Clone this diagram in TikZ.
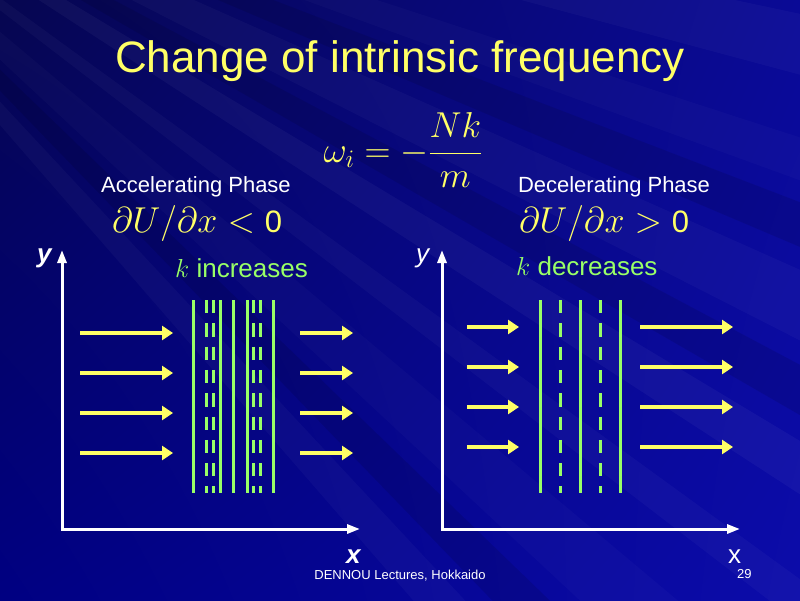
\RequirePackage{fix-cm}
\documentclass[tikz,border=0pt]{standalone}
\usepackage{fontspec}
\setmainfont{Liberation Sans}
\usetikzlibrary{arrows.meta,shadings}

\definecolor{slideyellow}{RGB}{255,255,102}
\definecolor{wavegreen}{RGB}{153,255,102}
\definecolor{bgUL}{RGB}{6,6,80}
\definecolor{bgUR}{RGB}{10,10,150}
\definecolor{bgLL}{RGB}{0,0,130}
\definecolor{bgLR}{RGB}{12,12,170}

\tikzset{
  flow/.style={draw=slideyellow, line width=4.3pt, -{Triangle[length=11pt,width=14pt]}},
  axes/.style={draw=white, line width=3pt, line join=miter, {Triangle[length=13pt,width=9pt]}-{Triangle[length=13pt,width=9pt]}},
  crest/.style={draw=wavegreen, line width=3pt},
  trough/.style={crest, dash pattern=on 13.3pt off 10pt},
  ray/.style={white, opacity=#1},
  label/.style={inner sep=0pt, anchor=base west}
}

\begin{document}
\begin{tikzpicture}[x=1pt, y=-1pt]
\useasboundingbox (0,0) rectangle (800,600);

% Fondo
\begin{scope}
\clip (0,0) rectangle (800,600);
\shade[upper left=bgUL, upper right=bgUR, lower left=bgLL, lower right=bgLR] (0,0) rectangle (800,600);
\coordinate (R) at (-300,-220);
\foreach \a/\b/\o in {12/15/0.03, 18/20/0.025, 24/27/0.03, 31/33/0.04, 36/37.5/0.03, 40/43/0.025, 47/49/0.03}
  \fill[ray=\o] (R) -- ([shift={(R)}]\a:2000) -- ([shift={(R)}]\b:2000) -- cycle;
\foreach \a/\b in {21/23, 28/30, 44/46}
  \fill[black, opacity=0.1] (R) -- ([shift={(R)}]\a:2000) -- ([shift={(R)}]\b:2000) -- cycle;
\end{scope}

% Titulo y formula
\node[label, anchor=base, text=slideyellow, font=\fontsize{44}{50}\selectfont] (title) at (400,72) {Change of intrinsic frequency};
\node[text=slideyellow, font=\fontsize{36}{42}\selectfont] (omega) at (403,150) {$\displaystyle \omega_i = -\frac{Nk}{m}$};

% Coordenadas de los ejes
\coordinate (Ay) at (62,250);
\coordinate (Ao) at (62,529);
\coordinate (Ax) at (360,529);
\coordinate (By) at (442,250);
\coordinate (Bo) at (442,529);
\coordinate (Bx) at (740,529);

% Ejes
\draw[axes] (Ay) -- (Ao) -- (Ax);
\draw[axes] (By) -- (Bo) -- (Bx);

% Fase de aceleracion
\node[label, anchor=base, text=white, font=\fontsize{22}{26}\selectfont] (accel) at (196,192) {Accelerating Phase};
\node[label, text=slideyellow, font=\fontsize{36}{40}\selectfont] (dUneg) at (112,232) {$\partial U/\partial x < \mbox{\fontsize{31}{34}\selectfont 0}$};
\node[label, text=wavegreen, font=\fontsize{26}{30}\selectfont] (kup) at (175,277) {$k$ increases};
\foreach \yy in {333,373,413,453} {
  \draw[flow] (80,\yy) -- (173,\yy);
  \draw[flow] (300,\yy) -- (353,\yy);
}
\foreach \xx in {193,220,233,247,273}
  \draw[crest] (\xx,300) -- (\xx,493);
\foreach \xx in {206,213,253,260}
  \draw[trough] (\xx,300) -- (\xx,493);

% Fase de desaceleracion
\node[label, anchor=base, text=white, font=\fontsize{22}{26}\selectfont] (decel) at (614,192) {Decelerating Phase};
\node[label, text=slideyellow, font=\fontsize{36}{40}\selectfont] (dUpos) at (519,232) {$\partial U/\partial x > \mbox{\fontsize{31}{34}\selectfont 0}$};
\node[label, text=wavegreen, font=\fontsize{26}{30}\selectfont] (kdown) at (516,275) {$k$ decreases};
\foreach \yy in {327,367,407,447} {
  \draw[flow] (467,\yy) -- (519,\yy);
  \draw[flow] (640,\yy) -- (733,\yy);
}
\foreach \xx in {540,580,620}
  \draw[crest] (\xx,300) -- (\xx,493);
\foreach \xx in {560,600}
  \draw[trough] (\xx,300) -- (\xx,493);

% Etiquetas de ejes
\node[label, text=white, font=\bfseries\itshape\fontsize{26}{30}\selectfont] (ylA) at (37,262) {y};
\node[label, text=white, font=\itshape\fontsize{26}{30}\selectfont] (ylB) at (416,262) {y};
\node[label, text=white, font=\bfseries\itshape\fontsize{26}{30}\selectfont] (xlA) at (346,563) {x};
\node[label, text=white, font=\fontsize{26}{30}\selectfont] (xlB) at (728,563) {x};

% Pie
\node[label, anchor=base, text=white, font=\fontsize{13}{15}\selectfont] (foot) at (400,579) {DENNOU Lectures, Hokkaido};
\node[label, text=white, font=\fontsize{13}{15}\selectfont] (page) at (737,578) {29};
\end{tikzpicture}
\end{document}
